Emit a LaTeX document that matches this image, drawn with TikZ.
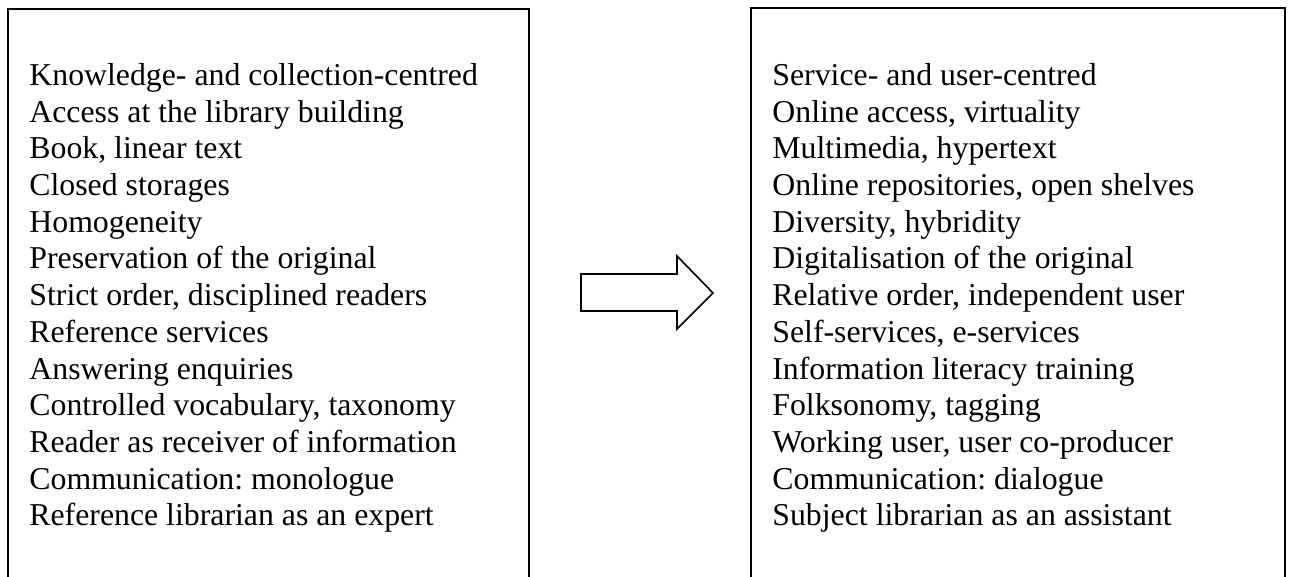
\documentclass[tikz,border=0pt]{standalone}
\usepackage{fontspec}
\setmainfont{Liberation Serif}
\begin{document}
\begin{tikzpicture}[x=0.5pt,y=-0.5pt,
  frame/.style={draw=black, line width=0.8pt},
  list/.style={anchor=north west, align=left, inner sep=0pt, font=\frenchspacing\fontsize{15.9}{18.35}\selectfont}]
\useasboundingbox (0,0) rectangle (1292,577);
% left box (open at bottom)
\draw[frame] (8,580) -- (8,9) -- (529,9) -- (529,580);
% right box
\draw[frame] (751,580) -- (751,8) -- (1285,8) -- (1285,580);
% arrow
\draw[frame, line join=miter] (581,274) -- (677,274) -- (677,256) -- (713,293) -- (677,329) -- (677,311) -- (581,311) -- cycle;
\node[list] (left) at (29,63) {Knowledge- and collection-centred\\
Access at the library building\\
Book, linear text\\
Closed storages\\
Homogeneity\\
Preservation of the original\\
Strict order, disciplined readers\\
Reference services\\
Answering enquiries\\
Controlled vocabulary, taxonomy\\
Reader as receiver of information\\
Communication: monologue\\
Reference librarian as an expert};
\node[list] (right) at (772,63) {Service- and user-centred\\
Online access, virtuality\\
Multimedia, hypertext\\
Online repositories, open shelves\\
Diversity, hybridity\\
Digitalisation of the original\\
Relative order, independent user\\
Self-services, e-services\\
Information literacy training\\
Folksonomy, tagging\\
Working user, user co-producer\\
Communication: dialogue\\
Subject librarian as an assistant};
\end{tikzpicture}
\end{document}
